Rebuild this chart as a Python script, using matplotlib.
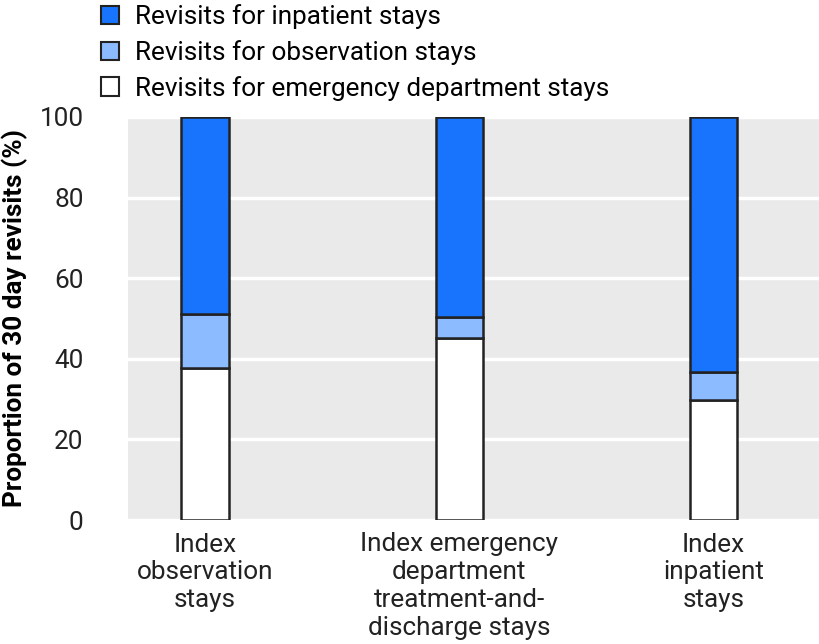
import matplotlib
matplotlib.use("Agg")
import matplotlib.pyplot as plt
import numpy as np
from matplotlib.patches import Patch

plt.rcParams['font.family'] = ['Roboto', 'DejaVu Sans']

# data
categories = ["Index\nobservation\nstays",
              "Index emergency\ndepartment\ntreatment-and-\ndischarge stays",
              "Index\ninpatient\nstays"]
ed_revisits = [37.7, 45.2, 29.9]
obs_revisits = [13.3, 5.2, 6.8]
inpatient_revisits = [49.0, 49.6, 63.3]
series_labels = ["Revisits for inpatient stays",
                 "Revisits for observation stays",
                 "Revisits for emergency department stays"]
yticks = [0, 20, 40, 60, 80, 100]

col_inp = "#1874fd"
col_obs = "#8dbbff"
col_ed = "#ffffff"
edge = "#222222"
fs = 18.8

fig = plt.figure(figsize=(8.2, 6.44), dpi=100)
ax = fig.add_axes([128/820, 1 - 520/644, 692/820, 403/644])
ax.set_facecolor("#eaeaea")

x = np.arange(len(categories))
w = 0.185
ed = np.array(ed_revisits)
ob = np.array(obs_revisits)
ip = np.array(inpatient_revisits)
ax.bar(x, ed, w, color=col_ed, edgecolor=edge, linewidth=1.8, zorder=3)
ax.bar(x, ob, w, bottom=ed, color=col_obs, edgecolor=edge, linewidth=1.8, zorder=3)
ax.bar(x, ip, w, bottom=ed + ob, color=col_inp, edgecolor=edge, linewidth=1.8, zorder=3)

ax.set_ylim(0, 100)
ax.set_xlim(-0.303, 2.42)
ax.set_yticks(yticks)
ax.yaxis.grid(True, color="white", linewidth=2.5, zorder=0)
ax.set_axisbelow(True)
for s in ax.spines.values():
    s.set_visible(False)
ax.tick_params(axis="both", length=0, labelsize=fs, pad=32, colors="#222222")
ax.set_xticks(x)
ax.set_xticklabels(categories, linespacing=1.2, va="top")
ax.tick_params(axis="x", pad=9)
ax.set_ylabel("Proportion of 30 day revisits (%)", fontsize=fs, fontweight="bold",
              labelpad=8)

handles = [Patch(facecolor=col_inp, edgecolor=edge, linewidth=1.5),
           Patch(facecolor=col_obs, edgecolor=edge, linewidth=1.5),
           Patch(facecolor=col_ed, edgecolor=edge, linewidth=1.5)]
fig.legend(handles, series_labels, loc="upper left",
           bbox_to_anchor=(101/820, 1 - 4/644),
           frameon=False, fontsize=fs, handlelength=0.7, handleheight=0.7,
           handletextpad=0.6, labelspacing=0.42, borderaxespad=0, borderpad=0)

fig.savefig("out.png", dpi=100)
